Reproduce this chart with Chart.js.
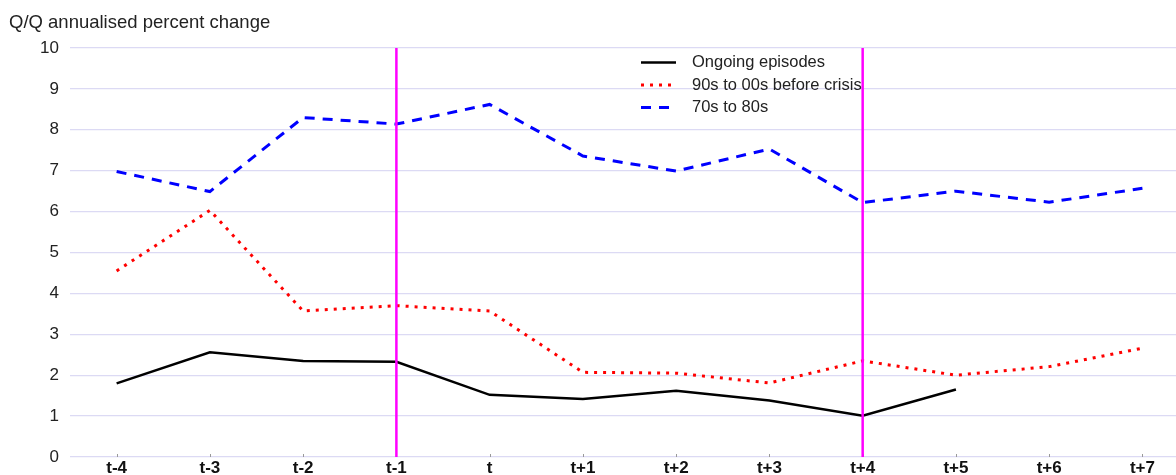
<!DOCTYPE html>
<html>
<head>
<meta charset="utf-8">
<script src="https://cdn.jsdelivr.net/npm/chart.js@4.4.1/dist/chart.umd.min.js"></script>
<style>
html,body{margin:0;padding:0;background:#fff;}
#wrap{width:1176px;height:475px;position:relative;}
</style>
</head>
<body>
<div id="wrap"><canvas id="c"></canvas></div>
<script>
const categories = ['t-4','t-3','t-2','t-1','t','t+1','t+2','t+3','t+4','t+5','t+6','t+7'];
const ongoing   = [1.80, 2.56, 2.35, 2.33, 1.52, 1.42, 1.62, 1.38, 1.01, 1.65, null, null];
const nineties  = [4.55, 6.03, 3.57, 3.70, 3.57, 2.07, 2.05, 1.81, 2.35, 2.00, 2.21, 2.66];
const seventies = [6.98, 6.49, 8.30, 8.14, 8.62, 7.36, 6.99, 7.53, 6.22, 6.50, 6.23, 6.57];
const seriesNames = ['Ongoing episodes', '90s to 00s before crisis', '70s to 80s'];
const markerCategories = ['t-1', 't+4'];
const yTickValues = [0,1,2,3,4,5,6,7,8,9,10];
const titleText = 'Q/Q annualised percent change';

const FONT = "'Liberation Sans', Arial, sans-serif";
const toPts = arr => arr.map((v,i)=>({x:i,y:v}));

const extras = {
  id:'extras',
  afterDatasetsDraw(chart){
    const ctx = chart.ctx, xs = chart.scales.x, ca = chart.chartArea;
    ctx.save();
    ctx.strokeStyle = '#999';
    ctx.lineWidth = 1;
    categories.forEach((c,i)=>{
      const px = Math.round(xs.getPixelForValue(i))+0.5;
      ctx.beginPath(); ctx.moveTo(px, ca.bottom-3); ctx.lineTo(px, ca.bottom); ctx.stroke();
    });
    ctx.strokeStyle = '#ff00ff';
    ctx.lineWidth = 2.5;
    markerCategories.forEach(c=>{
      const px = xs.getPixelForValue(categories.indexOf(c));
      ctx.beginPath(); ctx.moveTo(px, ca.top); ctx.lineTo(px, ca.bottom); ctx.stroke();
    });
    ctx.font = '16.5px ' + FONT;
    ctx.textBaseline = 'middle';
    ctx.fillStyle = '#222';
    chart.data.datasets.forEach((ds,i)=>{
      const y = 62.5 + i*22.5;
      ctx.strokeStyle = ds.borderColor;
      ctx.lineWidth = ds.borderWidth;
      ctx.setLineDash(ds.borderDash || []);
      ctx.beginPath(); ctx.moveTo(641, y); ctx.lineTo(676, y); ctx.stroke();
      ctx.setLineDash([]);
      ctx.fillText(ds.label, 692, y);
    });
    ctx.font = '18.5px ' + FONT;
    ctx.textBaseline = 'middle';
    ctx.fillText(titleText, 9, 22.5);
    ctx.restore();
  }
};

new Chart(document.getElementById('c'), {
  type:'line',
  data:{
    datasets:[
      {label:seriesNames[0], data:toPts(ongoing), borderColor:'#000000', borderWidth:2.5, pointRadius:0, fill:false, tension:0, spanGaps:false},
      {label:seriesNames[1], data:toPts(nineties), borderColor:'#ff0000', borderWidth:3, borderDash:[3,6], pointRadius:0, fill:false, tension:0},
      {label:seriesNames[2], data:toPts(seventies), borderColor:'#0000ff', borderWidth:3, borderDash:[10,8], pointRadius:0, fill:false, tension:0}
    ]
  },
  options:{
    responsive:true, maintainAspectRatio:false, animation:false,
    layout:{padding:{top:48,left:0,right:0,bottom:0}},
    plugins:{legend:{display:false}, title:{display:false}, tooltip:{enabled:false}},
    scales:{
      x:{
        type:'linear', min:-0.5, max:11.36,
        afterBuildTicks: s => { s.ticks = categories.map((c,i)=>({value:i})); },
        afterFit: s => { s.height = 18; s.paddingLeft = 0; s.paddingRight = 0; },
        grid:{display:false, drawTicks:false, tickLength:0},
        border:{display:false},
        ticks:{autoSkip:false, maxRotation:0, padding:3, color:'#111', font:{family:FONT, size:17, weight:'bold', lineHeight:1.0},
          callback: v => categories[v] }
      },
      y:{
        min:0, max:10,
        afterBuildTicks: s => { s.ticks = yTickValues.map(v=>({value:v})); },
        afterFit: s => { s.width = 70; s.paddingTop = 0; s.paddingBottom = 0; },
        grid:{color:'#dcdaf4', lineWidth:1.3, drawTicks:false},
        border:{display:false},
        ticks:{padding:11, color:'#222', font:{family:FONT, size:17}}
      }
    }
  },
  plugins:[extras]
});
</script>
</body>
</html>
